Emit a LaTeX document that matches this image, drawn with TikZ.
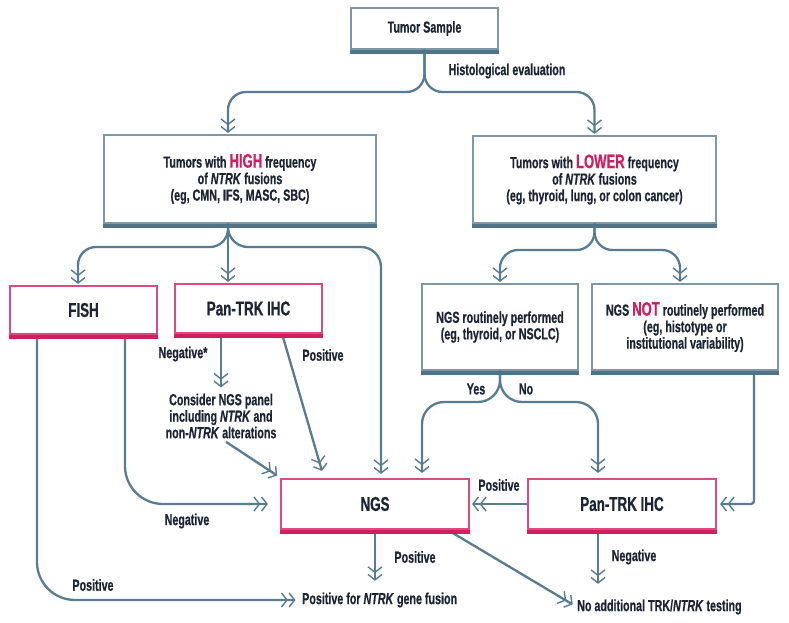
\documentclass[tikz,border=0pt]{standalone}
\usepackage{fontspec}
\setmainfont{Liberation Sans}[FakeStretch=0.67, BoldFeatures={FakeBold=0.6}, BoldItalicFeatures={FakeBold=0.6}]
\usetikzlibrary{arrows.meta,calc}
\definecolor{ln}{HTML}{587C91}
\definecolor{gbar}{HTML}{4F7388}
\definecolor{gbord}{HTML}{7F98A8}
\definecolor{pk}{HTML}{D21E5E}
\definecolor{txt}{HTML}{1C2535}
\newcommand{\hl}[1]{{\color{pk}\fontsize{19.5}{17}\selectfont #1}}
\begin{document}
\begin{tikzpicture}[x=1pt,y=-1pt,
  font=\bfseries\fontsize{16}{16.5}\selectfont, text=txt,
  gbox/.style={draw=gbord, line width=1.2pt, fill=white, inner sep=0pt, align=center},
  pbox/.style={draw=pk!80, line width=1.2pt, fill=white, inner sep=0pt, align=center,
     font=\bfseries\fontsize{20}{20}\selectfont},
  lbl/.style={inner sep=0pt, align=center},
  conn/.style={draw=ln, line width=2.3pt, shorten >=1.5pt,
     -{Straight Barb[length=5.5pt,width=14pt,line width=1.4pt,sep=0.5pt] Straight Barb[length=5.5pt,width=14pt,line width=1.4pt]}},
]
\useasboundingbox[fill=white] (0,0) rectangle (789,623);

% boxes
\node[gbox, minimum width=147pt, minimum height=41pt] (ts) at (424.5,28.5) {Tumor Sample};
\node[gbox, minimum width=272pt, minimum height=88pt] (high) at (240,179)
  {Tumors with \hl{HIGH} frequency\\ of \textit{NTRK} fusions\\ (eg, CMN, IFS, MASC, SBC)};
\node[gbox, minimum width=243pt, minimum height=87pt] (low) at (594.5,179.5)
  {Tumors with \hl{LOWER} frequency\\ of \textit{NTRK} fusions\\ (eg, thyroid, lung, or colon cancer)};
\node[pbox, minimum width=147pt, minimum height=48pt] (fish) at (83.5,310) {FISH};
\node[pbox, minimum width=147pt, minimum height=49pt] (pan1) at (248.5,308.5) {Pan-TRK IHC};
\node[gbox, minimum width=156pt, minimum height=86pt] (rout) at (500,327)
  {NGS routinely performed\\ (eg, thyroid, or NSCLC)};
\node[gbox, minimum width=186pt, minimum height=86pt] (notr) at (685,327)
  {NGS \hl{NOT} routinely performed\\ (eg, histotype or\\ institutional variability)};
\node[pbox, minimum width=188pt, minimum height=50pt] (ngs) at (375,504) {NGS};
\node[pbox, minimum width=188pt, minimum height=50pt] (pan2) at (622,504) {Pan-TRK IHC};

% text nodes
\node[lbl] (cons) at (221,416) {Consider NGS panel\\ including \textit{NTRK} and\\ non-\textit{NTRK} alterations};
\node[lbl, anchor=west] (fusion) at (302,600) {Positive for \textit{NTRK} gene fusion};
\node[lbl, anchor=west] (noadd) at (577,607) {No additional TRK/\textit{NTRK} testing};

% labels
\node[lbl] (l1) at (507,71) {Histological evaluation};
\node[lbl] (l2) at (183,354) {Negative*};
\node[lbl] (l3) at (323,355) {Positive};
\node[lbl] (l4) at (187,521) {Negative};
\node[lbl] (l5) at (93,585) {Positive};
\node[lbl] (l6) at (476,389) {Yes};
\node[lbl] (l7) at (526,389) {No};
\node[lbl] (l8) at (499,485) {Positive};
\node[lbl] (l9) at (415,557) {Positive};
\node[lbl] (l10) at (634,557) {Negative};

% connectors
\draw[conn, rounded corners=18pt] (ts.south) -- (424.5,92) -- (228,92) -- ([xshift=-12pt]high.north);
\draw[conn, rounded corners=18pt] (ts.south) -- (424.5,92) -- (594.5,92) -- (low.north);

\draw[conn, rounded corners=18pt] ([xshift=-12pt]high.south) -- (228,247) -- (78,247) -- ([xshift=-5.5pt]fish.north);
\draw[conn] ([xshift=-12pt]high.south) -- ([xshift=-20.5pt]pan1.north);
\draw[conn, rounded corners=20pt] ([xshift=-12pt]high.south) -- (228,247) -- (381,247) -- ([xshift=6pt,yshift=3pt]ngs.north);

\draw[conn, rounded corners=18pt] (low.south) -- (594.5,250) -- (500,250) -- (rout.north);
\draw[conn, rounded corners=18pt] (low.south) -- (594.5,250) -- (680,250) -- ([xshift=-5pt]notr.north);

\draw[conn, rounded corners=38pt] ([xshift=41.5pt]fish.south) -- (125,504) -- ([xshift=-11pt]ngs.west);
\draw[conn, rounded corners=38pt] ([xshift=-46.5pt]fish.south) -- (37,600) -- ([xshift=-5pt]fusion.west);

\draw[conn, shorten >=6pt] ([xshift=-27.5pt]pan1.south) -- (cons.north);
\draw[conn, shorten <=6pt] (cons.south) -- ($(ngs.north west)+(-2,-2)$);
\draw[conn] ([xshift=33.5pt]pan1.south) -- ($(ngs.north west)+(42,-6)$);

\draw[conn, rounded corners=22pt] (rout.south) -- (500,402) -- (422,402) -- ([xshift=47pt,yshift=4pt]ngs.north);
\draw[conn, rounded corners=22pt] (rout.south) -- (500,402) -- (598,402) -- ([xshift=-24pt,yshift=4pt]pan2.north);
\draw[conn, rounded corners=3pt] ([xshift=69pt]notr.south) -- (754,504) -- ([xshift=2pt]pan2.east);

\draw[conn] (pan2.west) -- ([xshift=1pt]ngs.east);
\draw[conn] (ngs.south) -- ([yshift=10pt]ngs.south |- fusion.north);
\draw[conn, shorten >=5pt] ([xshift=72pt]ngs.south) -- (noadd.west);
\draw[conn] ([xshift=-24pt]pan2.south) -- ([xshift=-24pt,yshift=14pt]pan2.south |- noadd.north);

% bottom bars
\foreach \n in {ts,high,low,rout,notr}
  \fill[gbar] ([xshift=-0.6pt]\n.south west) rectangle ([xshift=0.6pt,yshift=-4.5pt]\n.south east);
\foreach \n in {fish,pan1,ngs,pan2}
  \fill[pk] ([xshift=-0.6pt]\n.south west) rectangle ([xshift=0.6pt,yshift=-4.5pt]\n.south east);
\end{tikzpicture}
\end{document}
